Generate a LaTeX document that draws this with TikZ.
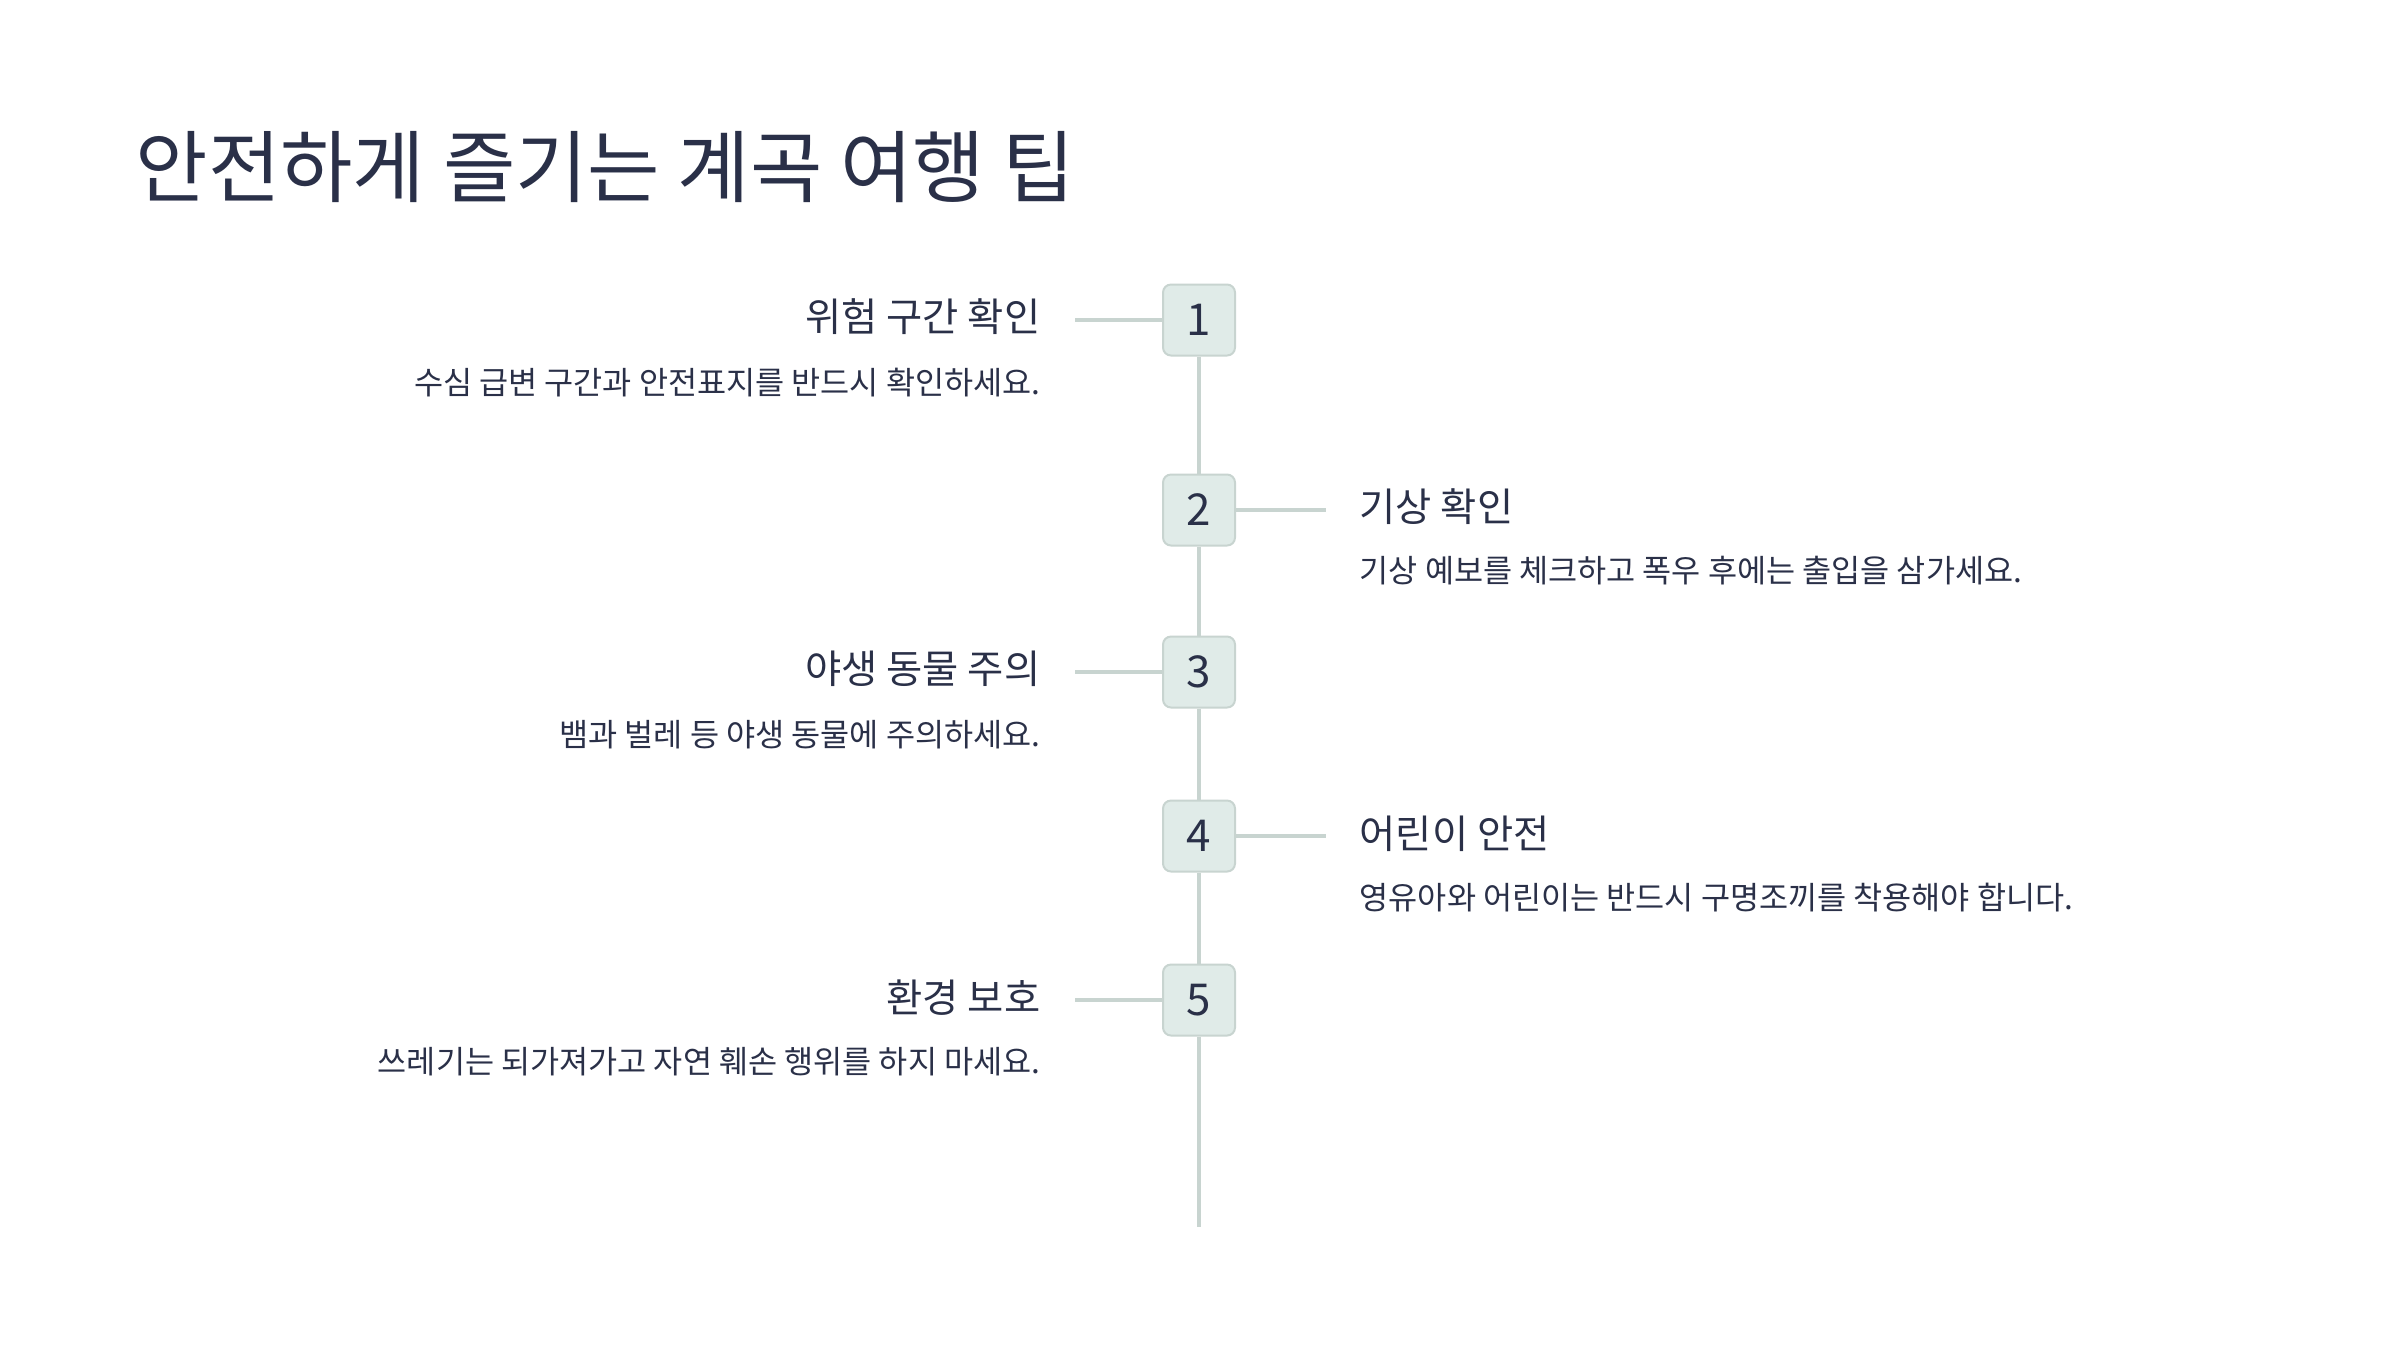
\documentclass[tikz,border=0pt]{standalone}
\usepackage{fontspec}
\setmainfont{Noto Sans CJK KR}
\usepackage{tikz}
\usetikzlibrary{positioning}
\usepackage{xcolor}
\definecolor{inkblue}{HTML}{2A3048}
\definecolor{railgray}{HTML}{C8D4D0}
\definecolor{boxfill}{HTML}{E0EBE8}

\begin{document}
\begin{tikzpicture}[x=1cm, y=1cm,
  numbox/.style={rectangle, draw=railgray, fill=boxfill, line width=0.02cm, minimum width=0.72cm, minimum height=0.71cm, rounded corners=0.08cm, inner sep=0pt, text=inkblue, font=\fontsize{12.5}{12}\selectfont},
  rail/.style={draw=railgray, line width=0.04cm},
  headl/.style={anchor=east, text=inkblue, inner sep=0pt, font=\fontsize{11.2}{12}\selectfont},
  headr/.style={anchor=west, text=inkblue, inner sep=0pt, font=\fontsize{11.2}{12}\selectfont},
  descl/.style={anchor=east, text=inkblue, inner sep=0pt, font=\fontsize{9.0}{10}\selectfont},
  descr/.style={anchor=west, text=inkblue, inner sep=0pt, font=\fontsize{9.0}{10}\selectfont}
]
\useasboundingbox[fill=white] (0,0) rectangle (24,-13.5);

% title
\node[anchor=west, text=inkblue, inner sep=0pt, font=\fontsize{22.4}{24}\selectfont] (title) at (1.35,-1.67) {안전하게 즐기는 계곡 여행 팁};

% rail ends
\coordinate (railend) at (11.99,-12.27);
\coordinate (c1) at (10.75,-3.20);
\coordinate (c2) at (13.26,-5.10);
\coordinate (c3) at (10.75,-6.72);
\coordinate (c4) at (13.26,-8.36);
\coordinate (c5) at (10.75,-10.00);

% number boxes
\node[numbox] (n1) at (11.99,-3.20) {1};
\node[numbox] (n2) at (11.99,-5.10) {2};
\node[numbox] (n3) at (11.99,-6.72) {3};
\node[numbox] (n4) at (11.99,-8.36) {4};
\node[numbox] (n5) at (11.99,-10.00) {5};

% rail
\draw[rail] (n1.south) -- (n2.north);
\draw[rail] (n2.south) -- (n3.north);
\draw[rail] (n3.south) -- (n4.north);
\draw[rail] (n4.south) -- (n5.north);
\draw[rail] (n5.south) -- (railend);
\draw[rail] (c1) -- (n1.west);
\draw[rail] (n2.east) -- (c2);
\draw[rail] (c3) -- (n3.west);
\draw[rail] (n4.east) -- (c4);
\draw[rail] (c5) -- (n5.west);

% tips
\node[headl] (h1) at (10.41,-3.17) {위험 구간 확인};
\node[descl] (d1) at (10.41,-3.83) {수심 급변 구간과 안전표지를 반드시 확인하세요.};

\node[headr] (h2) at (13.59,-5.07) {기상 확인};
\node[descr] (d2) at (13.59,-5.71) {기상 예보를 체크하고 폭우 후에는 출입을 삼가세요.};

\node[headl] (h3) at (10.41,-6.69) {야생 동물 주의};
\node[descl] (d3) at (10.41,-7.35) {뱀과 벌레 등 야생 동물에 주의하세요.};

\node[headr] (h4) at (13.59,-8.34) {어린이 안전};
\node[descr] (d4) at (13.59,-8.98) {영유아와 어린이는 반드시 구명조끼를 착용해야 합니다.};

\node[headl] (h5) at (10.41,-9.98) {환경 보호};
\node[descl] (d5) at (10.41,-10.62) {쓰레기는 되가져가고 자연 훼손 행위를 하지 마세요.};
\end{tikzpicture}
\end{document}
